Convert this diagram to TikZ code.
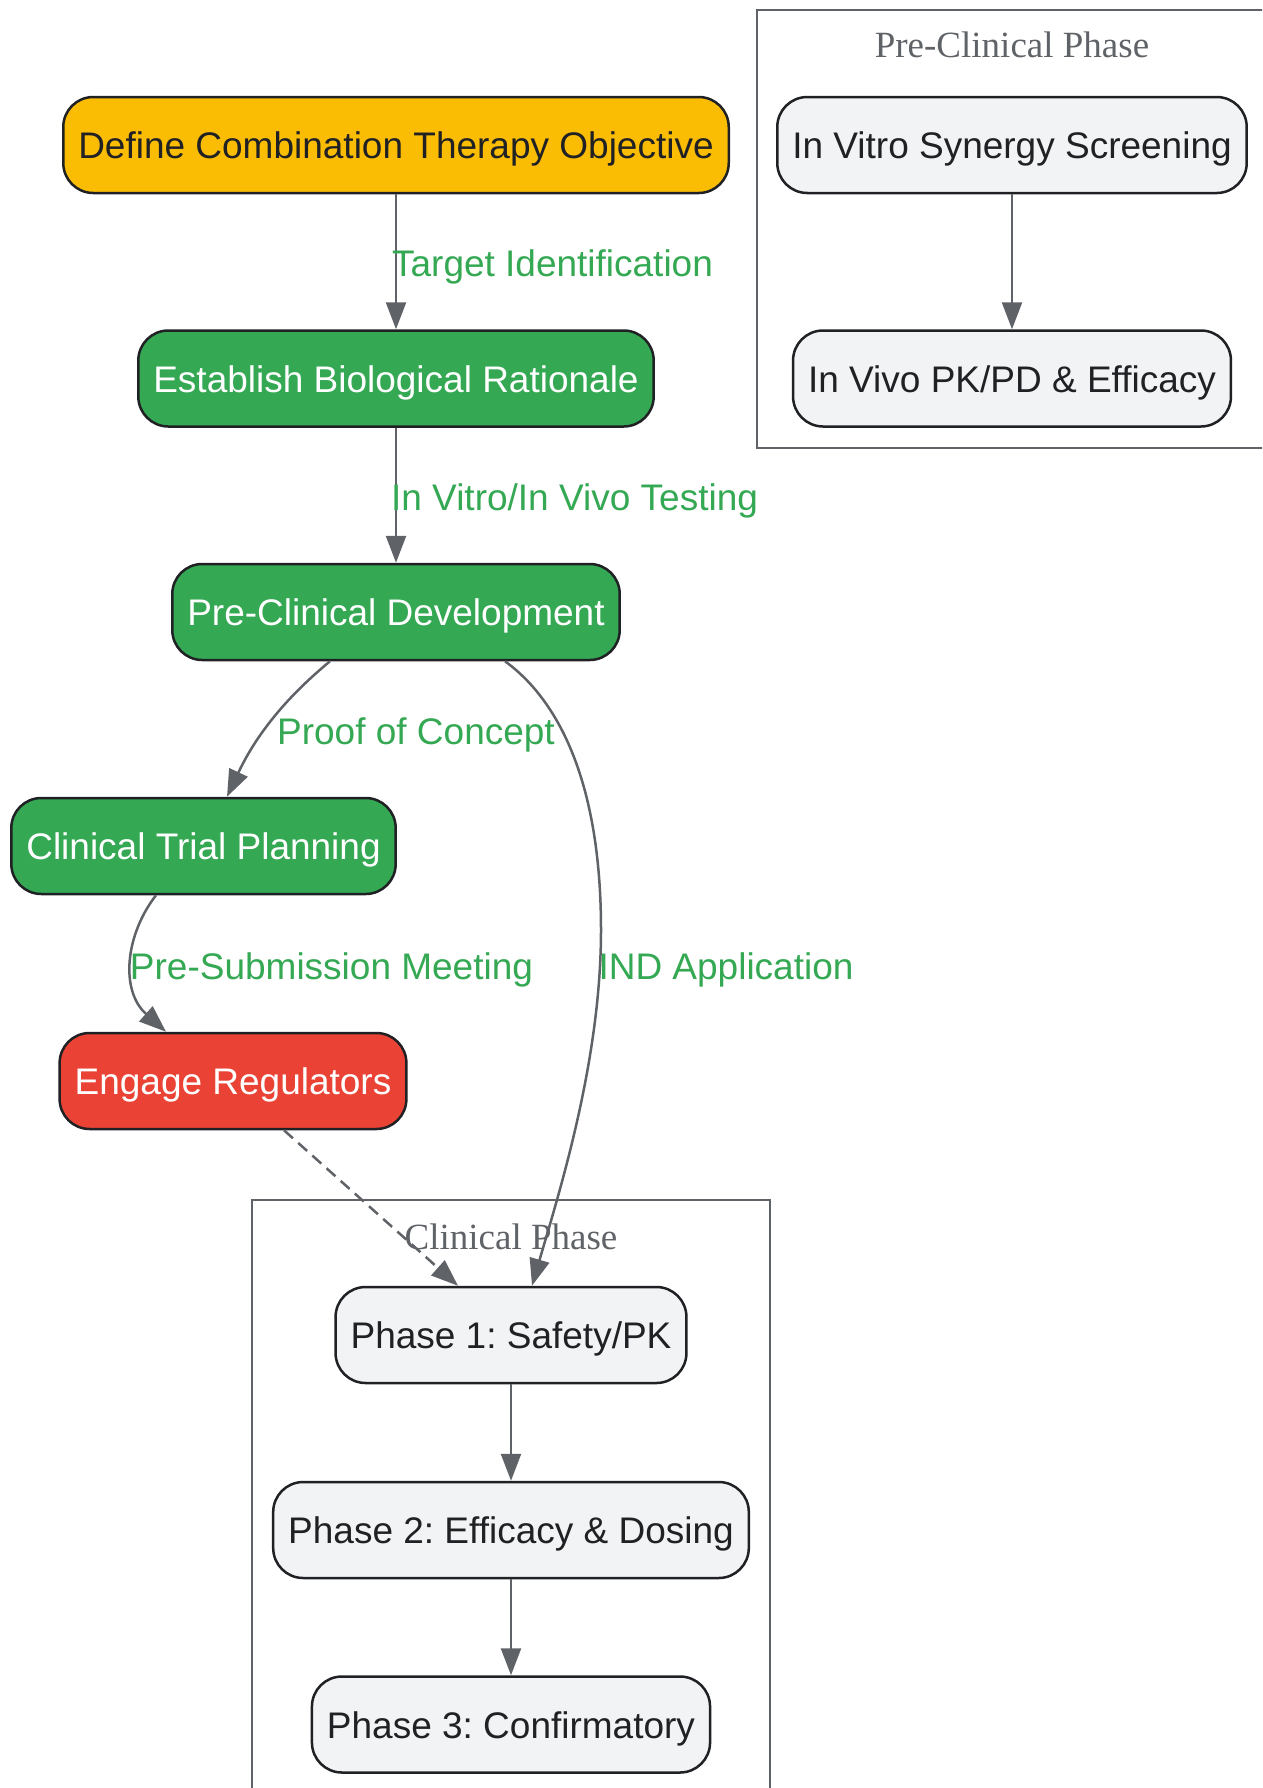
\documentclass[tikz,border=0pt]{standalone}
\usepackage{fontspec}
\setmainfont{Liberation Serif}
\newfontfamily\arialfont{Liberation Sans}
\usepackage{xcolor}
\usetikzlibrary{arrows.meta}
\definecolor{objyellow}{HTML}{FBBC04}
\definecolor{stepgreen}{HTML}{34A853}
\definecolor{regred}{HTML}{EA4335}
\definecolor{phasegrey}{HTML}{F1F3F4}
\definecolor{edgegrey}{HTML}{5F6368}
\definecolor{borderdark}{HTML}{202124}
\frenchspacing

\begin{document}
\begin{tikzpicture}[x=1pt, y=-1pt,
        box/.style={draw=borderdark, line width=2.5pt, rounded corners=30pt,
            minimum height=96pt, inner xsep=15pt, text height=31pt, text depth=4pt,
            font=\arialfont\fontsize{37}{44}\selectfont},
        yellowbox/.style={box, fill=objyellow, text=borderdark},
        greenbox/.style={box, fill=stepgreen, text=white},
        redbox/.style={box, fill=regred, text=white},
        greybox/.style={box, fill=phasegrey, text=borderdark},
        lbl/.style={inner sep=0pt, text=stepgreen, font=\arialfont\fontsize{37}{44}\selectfont},
        cluster/.style={draw=edgegrey, line width=2.5pt},
        title/.style={inner sep=0pt, text=edgegrey, font=\fontsize{37}{44}\selectfont},
        flow/.style={draw=edgegrey, line width=2.5pt, -{Triangle[length=27pt,width=20pt]}}]
                \useasboundingbox (0,0) rectangle (1262,1788);
                \clip (0,0) rectangle (1262,1788);
                % clusters
                \draw[cluster] (757,10) rectangle (1270,448);
                \node[title] (TPRE) at (1012,45) {Pre-Clinical Phase};
                \draw[cluster] (252,1200) rectangle (770,1800);
                \node[title] (TCLIN) at (511,1237) {Clinical Phase};
                % main chain
                \node[yellowbox] (OBJ) at (396,145) {Define Combination Therapy Objective};
                \node[greenbox] (RAT) at (396,378.5) {Establish Biological Rationale};
                \node[greenbox] (PRE) at (396,612) {Pre-Clinical Development};
                \node[greenbox] (PLAN) at (203.5,846) {Clinical Trial Planning};
                \node[redbox] (REG) at (233,1081) {Engage Regulators};
                % pre-clinical phase
                \node[greybox] (VITRO) at (1012,145) {In Vitro Synergy Screening};
                \node[greybox] (VIVO) at (1012,378.5) {In Vivo PK/PD \& Efficacy};
                % clinical phase
                \node[greybox] (PH1) at (511,1335) {Phase 1: Safety/PK};
                \node[greybox] (PH2) at (511,1530) {Phase 2: Efficacy \& Dosing};
                \node[greybox] (PH3) at (511,1724.5) {Phase 3: Confirmatory};
                % edges
                \draw[flow] (OBJ) -- (RAT);
                \draw[flow] (RAT) -- (PRE);
                \draw[flow] ([xshift=-66pt]PRE.south) .. controls +(-35,29) and +(33,-70) .. ([xshift=23.5pt]PLAN.north);
                \draw[flow] ([xshift=-47.5pt]PLAN.south) .. controls +(-31,40) and +(-46,-41) .. ([xshift=-67pt]REG.north);
                \draw[flow] ([xshift=109pt]PRE.south) .. controls +(40,29) and +(0,-170) .. (601,930)
                    .. controls +(0,130) and +(28,-96) .. ([xshift=21pt]PH1.north);
                \draw[flow, dash pattern=on 12pt off 7pt] ([xshift=51pt]REG.south) -- ([xshift=-53pt]PH1.north);
                \draw[flow] (VITRO) -- (VIVO);
                \draw[flow] (PH1) -- (PH2);
                \draw[flow] (PH2) -- (PH3);
                % edge labels
                \node[lbl] (LTARGET) at (552.5,266.5) {Target Identification};
                \node[lbl] (LTEST) at (574.5,500.5) {In Vitro/In Vivo Testing};
                \node[lbl] (LPROOF) at (416,734.5) {Proof of Concept};
                \node[lbl] (LMEET) at (331.5,969.5) {Pre-Submission Meeting};
                \node[lbl] (LIND) at (726,969.5) {IND Application};
            \end{tikzpicture}
\end{document}
